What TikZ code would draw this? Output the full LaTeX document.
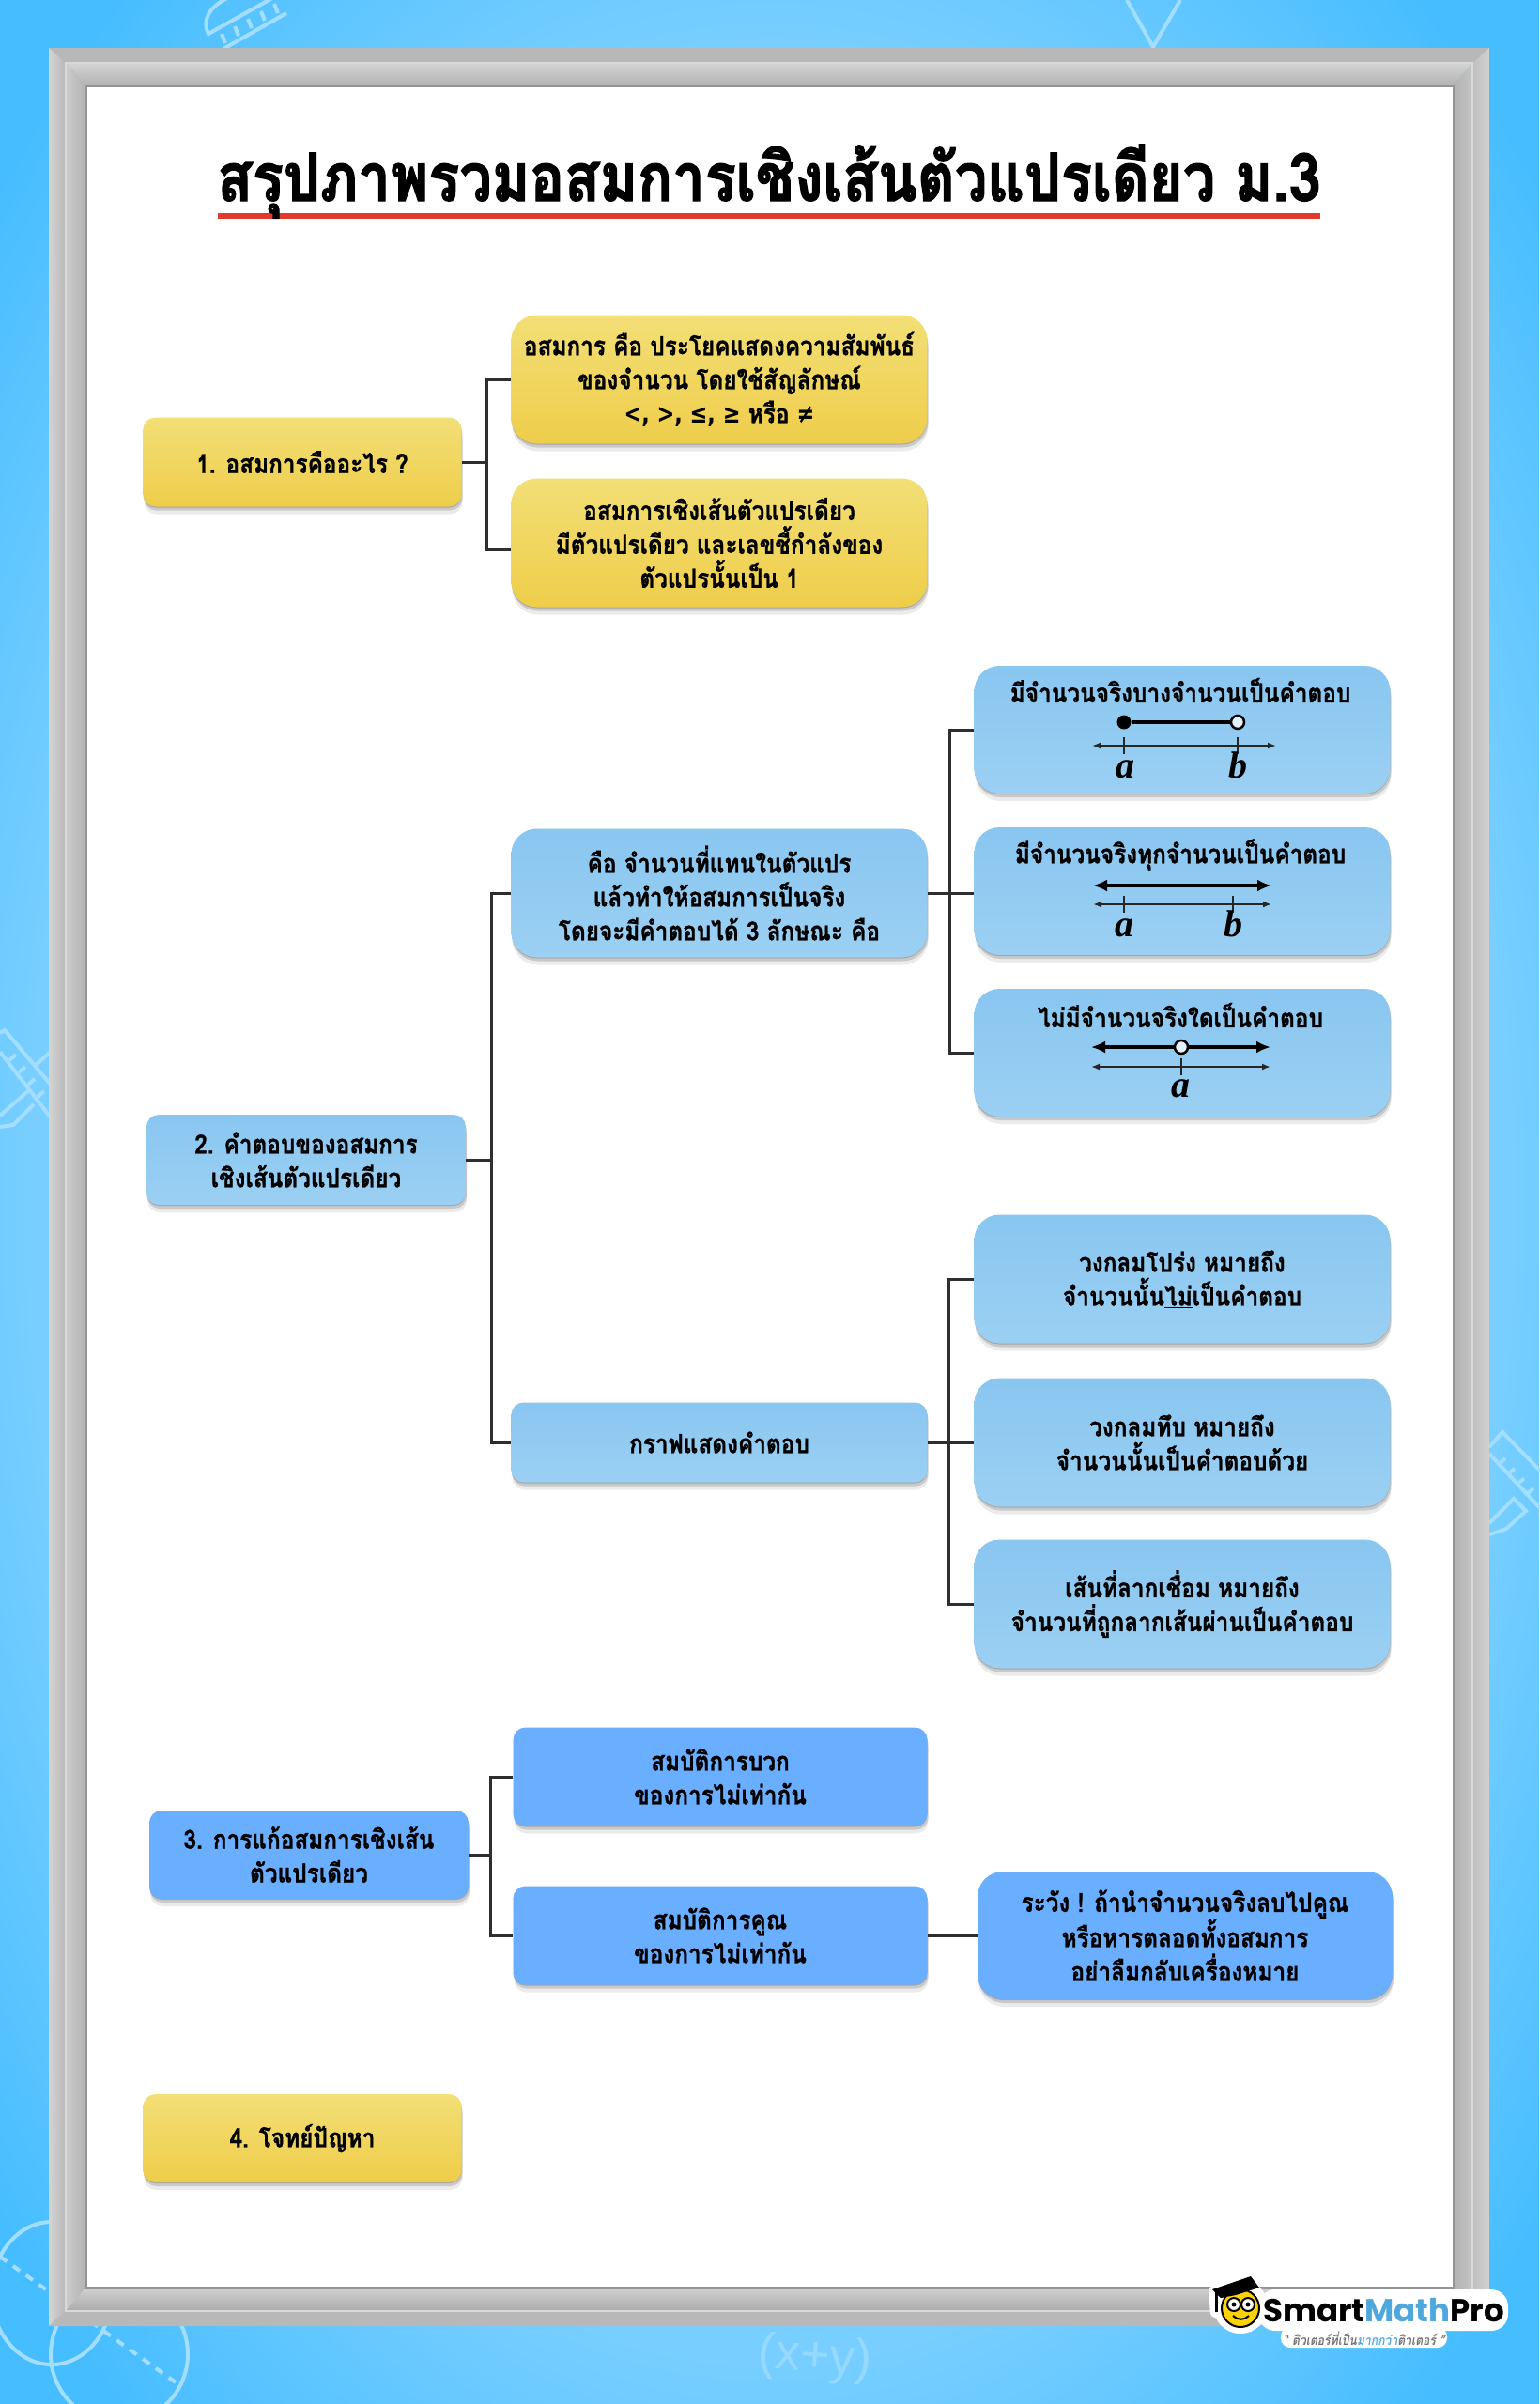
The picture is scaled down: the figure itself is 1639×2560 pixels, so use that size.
\documentclass[tikz,border=0pt]{standalone}
\usepackage{fontspec}
\setmainfont[Script=Thai,FakeStretch=.87,BoldFeatures={FakeStretch=.87,FakeBold=1}]{Loma}
\newfontfamily\titlefont[Script=Thai,BoldFeatures={FakeStretch=.865,FakeBold=1.8}]{Loma}
\newfontfamily\symfont[FakeStretch=.8]{DejaVu Sans}
\newfontfamily\varfont{Liberation Serif}
\newfontfamily\brandfont{Poppins}
\newfontfamily\doodlefont{Liberation Sans}
\usetikzlibrary{arrows.meta,shadows}
\definecolor{doodle}{HTML}{A3DEFF}
\definecolor{linkdark}{HTML}{2E2E2E}
\definecolor{titlered}{HTML}{E03A2C}
\definecolor{brandblue}{HTML}{4EA8DD}
\pgfdeclareradialshading{skyglow}{\pgfpoint{0bp}{0bp}}{rgb(0bp)=(.47,.81,1);rgb(24bp)=(.47,.81,1);rgb(33bp)=(.27,.74,1);rgb(50bp)=(.27,.74,1)}
\tikzset{
	softshadow/.style={drop shadow={shadow xshift=1pt,shadow yshift=-8pt,fill=black,opacity=.08},
		drop shadow={shadow xshift=1pt,shadow yshift=-4pt,fill=black,opacity=.14},
		drop shadow={shadow xshift=0pt,shadow yshift=-1pt,fill=black,opacity=.18}},
	headbox/.style={rounded corners=13pt,inner sep=0pt,align=center,softshadow,font=\fontsize{28}{36}\selectfont\bfseries},
	bigbox/.style={headbox,rounded corners=27pt},
	yellowbox/.style={top color={rgb,255:red,242;green,223;blue,118},bottom color={rgb,255:red,239;green,205;blue,74}},
	skybox/.style={top color={rgb,255:red,137;green,198;blue,240},bottom color={rgb,255:red,155;green,208;blue,243}},
	bluebox/.style={fill={rgb,255:red,106;green,174;blue,255}},
	boxtext/.style={align=center,inner sep=0pt,font=\fontsize{28}{36}\selectfont\bfseries},
	linkline/.style={draw=linkdark,line width=3pt},
	axisline/.style={black!85,line width=2pt,{Latex[length=9pt,width=7pt]}-{Latex[length=9pt,width=7pt]}},
	rayline/.style={black,line width=4.5pt,{Latex[length=15pt,width=13pt]}-{Latex[length=15pt,width=13pt]}},
	spanline/.style={black,line width=4.5pt},
	tickline/.style={black!85,line width=2pt},
	soliddot/.style={fill=black,circle,inner sep=0pt,minimum size=15pt},
	opendot/.style={draw=black,fill={rgb,255:red,226;green,241;blue,251},circle,line width=2.5pt,inner sep=0pt,minimum size=14pt},
	varlabel/.style={inner sep=0pt,anchor=base,font=\fontsize{40}{40}\varfont\bfseries\itshape},
	doodleline/.style={draw=doodle,line width=4pt}
}
\begin{document}
\begin{tikzpicture}[x=1pt,y=-1pt]
	\useasboundingbox (0,0) rectangle (1639,2560);
	\shade[shading=skyglow] (0,0) rectangle (1639,2560);
	% faint doodles behind the frame
	\draw[doodleline] (215,-2) arc (150:225:35 and 60);
	\draw[doodleline] (242,-2) .. controls (222,8) and (215,22) .. (222,36) -- (290,-2);
	\draw[doodleline] (238,52) -- (305,14);
	\foreach \tx/\ty in {240/46,254/38,268/30,282/22,296/14}
		\draw[doodleline] (\tx,\ty) -- ++(-4,-10);
	\draw[doodleline] (1200,0) -- (1228,50) -- (1257,0);
	\draw[doodleline] (0,1100) -- (5,1097) -- (54,1155);
	\draw[doodleline] (0,1120) -- (54,1190);
	\foreach \tx in {10,20,30,40}
		\draw[doodleline] (\tx,1116+\tx*1.3) -- ++(7,-6);
	\draw[doodleline] (54,1120) -- (38,1134);
	\draw[doodleline] (32,1160) -- (0,1188);
	\draw[doodleline] (0,1200) -- (14,1198) -- (36,1176);
	\draw[doodleline] (1586,1541) -- (1600,1525) -- (1640,1566);
	\draw[doodleline] (1586,1548) -- (1640,1606);
	\foreach \tx in {1596,1606,1616,1626}
		\draw[doodleline] (\tx,1559+\tx*1.07-1596*1.07) -- ++(7,-6);
	\draw[doodleline] (1586,1622) -- (1612,1596) -- (1626,1610);
	\draw[doodleline] (1586,1634) -- (1604,1628) -- (1626,1608);
	\draw[doodleline] (55,2442) ellipse (64 and 76);
	\draw[doodleline] (127,2507) circle (73);
	\draw[doodleline,dash pattern=on 9pt off 8pt] (0,2403) -- (187,2537);
	\node[inner sep=0pt,rotate=-4,text=doodle,text opacity=.7] (doodlesum) at (868,2512) {\fontsize{54}{54}\doodlefont (x+y)};
	% frame, outer and inner band of each side
	\fill[black!28] (52,51) -- (1586,51) -- (1568,67) -- (70,67) -- cycle;
	\shade[top color=black!17,bottom color=black!30] (70,67) -- (1568,67) -- (1548,91) -- (91,91) -- cycle;
	\shade[left color=black!17,right color=black!28] (52,51) -- (70,67) -- (70,2461) -- (52,2477) -- cycle;
	\shade[left color=black!20,right color=black!30] (70,67) -- (91,91) -- (91,2436) -- (70,2461) -- cycle;
	\shade[top color=black!18,bottom color=black!33] (91,2436) -- (1548,2436) -- (1568,2461) -- (70,2461) -- cycle;
	\fill[black!28] (70,2461) -- (1568,2461) -- (1586,2477) -- (52,2477) -- cycle;
	\shade[left color=black!30,right color=black!23] (1548,91) -- (1568,67) -- (1568,2461) -- (1548,2436) -- cycle;
	\shade[left color=black!25,right color=black!18] (1568,67) -- (1586,51) -- (1586,2477) -- (1568,2461) -- cycle;
	\draw[black!15,line width=2pt] (70,67) -- (1568,67) -- (1568,2461) -- (70,2461) -- cycle;
	\fill[white] (91,91) rectangle (1548,2436);
	\draw[black!42,line width=3pt] (91,2436) -- (91,91) -- (1548,91) -- (1548,2436) -- cycle;
	% title
	\fill[titlered] (232,227) rectangle (1406,233);
	\node[inner sep=0pt,anchor=base] (title) at (819,214) {\fontsize{71}{71}\titlefont\bfseries สรุปภาพรวมอสมการเชิงเส้นตัวแปรเดียว ม.3};
	% part 1
	\node[headbox,yellowbox,minimum width=339pt,minimum height=95pt] (headA) at (322,492) {1. อสมการคืออะไร ?};
	\node[bigbox,yellowbox,minimum width=443pt,minimum height=137pt] (leafAa) at (766,404) {อสมการ คือ ประโยคแสดงความสัมพันธ์\\ของจำนวน โดยใช้สัญลักษณ์\\{\symfont <, >, ≤, ≥} หรือ {\symfont ≠}};
	\node[bigbox,yellowbox,minimum width=443pt,minimum height=137pt] (leafAb) at (766,578) {อสมการเชิงเส้นตัวแปรเดียว\\มีตัวแปรเดียว และเลขชี้กำลังของ\\ตัวแปรนั้นเป็น 1};
	\coordinate (trunkA) at (518,492);
	\draw[linkline] (headA.east) -- (trunkA);
	\draw[linkline] (leafAa.west) -| (trunkA) |- ([yshift=-7pt]leafAb.west);
	% part 2
	\node[headbox,skybox,minimum width=340pt,minimum height=96pt] (headB) at (326,1235) {2. คำตอบของอสมการ\\เชิงเส้นตัวแปรเดียว};
	\node[bigbox,skybox,minimum width=443pt,minimum height=137pt] (meanB) at (766,951) {คือ จำนวนที่แทนในตัวแปร\\แล้วทำให้อสมการเป็นจริง\\โดยจะมีคำตอบได้ 3 ลักษณะ คือ};
	\node[headbox,skybox,minimum width=443pt,minimum height=85pt] (graphB) at (766,1536) {กราฟแสดงคำตอบ};
	\coordinate (trunkB) at (523,1235);
	\draw[linkline] (headB.east) -- (trunkB);
	\draw[linkline] (meanB.west) -| (trunkB) |- (graphB.west);
	% three kinds of answer
	\node[bigbox,skybox,minimum width=443pt,minimum height=136pt] (kindA) at (1259,777) {};
	\node[bigbox,skybox,minimum width=443pt,minimum height=136pt] (kindB) at (1259,949) {};
	\node[bigbox,skybox,minimum width=443pt,minimum height=136pt] (kindC) at (1259,1121) {};
	\coordinate (trunkC) at (1011,951);
	\draw[linkline] (meanB.east) -- (trunkC);
	\draw[linkline] (kindA.west) -| (trunkC) |- ([yshift=-2pt]kindB.west);
	\draw[linkline] (trunkC) |- (kindC.west);
	\node[boxtext] (kindAtext) at (1257,735) {มีจำนวนจริงบางจำนวนเป็นคำตอบ};
	\node[soliddot] (spanA) at (1197,769) {};
	\node[opendot] (spanB) at (1318,769) {};
	\draw[spanline] (spanA) -- (spanB);
	\coordinate (axisAl) at (1163,794);
	\coordinate (axisAr) at (1359,794);
	\draw[axisline] (axisAl) -- (axisAr);
	\draw[tickline] (1197,785) -- (1197,803);
	\draw[tickline] (1318,785) -- (1318,803);
	\node[varlabel] (varAa) at (1198,828) {a};
	\node[varlabel] (varAb) at (1318,828) {b};
	\node[boxtext] (kindBtext) at (1257,910) {มีจำนวนจริงทุกจำนวนเป็นคำตอบ};
	\coordinate (rayBl) at (1164,943);
	\coordinate (rayBr) at (1354,943);
	\draw[rayline] (rayBl) -- (rayBr);
	\coordinate (axisBl) at (1164,963);
	\coordinate (axisBr) at (1354,963);
	\draw[axisline] (axisBl) -- (axisBr);
	\draw[tickline] (1197,954) -- (1197,972);
	\draw[tickline] (1313,954) -- (1313,972);
	\node[varlabel] (varBa) at (1197,997) {a};
	\node[varlabel] (varBb) at (1313,997) {b};
	\node[boxtext] (kindCtext) at (1257,1081) {ไม่มีจำนวนจริงใดเป็นคำตอบ};
	\coordinate (rayCl) at (1162,1115);
	\coordinate (rayCr) at (1353,1115);
	\draw[rayline] (rayCl) -- (rayCr);
	\node[opendot] (holeC) at (1258,1115) {};
	\coordinate (axisCl) at (1162,1136);
	\coordinate (axisCr) at (1353,1136);
	\draw[axisline] (axisCl) -- (axisCr);
	\draw[tickline] (1258,1127) -- (1258,1145);
	\node[varlabel] (varCa) at (1257,1168) {a};
	% reading the graph
	\node[bigbox,skybox,minimum width=443pt,minimum height=137pt] (readA) at (1259,1362) {วงกลมโปร่ง หมายถึง\\จำนวนนั้น\underline{ไม่}เป็นคำตอบ};
	\node[bigbox,skybox,minimum width=443pt,minimum height=137pt] (readB) at (1259,1536) {วงกลมทึบ หมายถึง\\จำนวนนั้นเป็นคำตอบด้วย};
	\node[bigbox,skybox,minimum width=443pt,minimum height=137pt] (readC) at (1259,1708) {เส้นที่ลากเชื่อม หมายถึง\\จำนวนที่ถูกลากเส้นผ่านเป็นคำตอบ};
	\coordinate (trunkD) at (1010,1536);
	\draw[linkline] (graphB.east) -- (trunkD);
	\draw[linkline] (readA.west) -| (trunkD) |- (readB.west);
	\draw[linkline] (trunkD) |- (readC.west);
	% part 3
	\node[headbox,bluebox,minimum width=340pt,minimum height=94pt] (headE) at (329,1975) {3. การแก้อสมการเชิงเส้น\\ตัวแปรเดียว};
	\node[headbox,bluebox,minimum width=441pt,minimum height=105pt] (plusE) at (767,1892) {สมบัติการบวก\\ของการไม่เท่ากัน};
	\node[headbox,bluebox,minimum width=441pt,minimum height=105pt] (timesE) at (767,2061) {สมบัติการคูณ\\ของการไม่เท่ากัน};
	\node[bigbox,bluebox,minimum width=442pt,minimum height=136pt] (warnE) at (1262,2061) {ระวัง ! ถ้านำจำนวนจริงลบไปคูณ\\หรือหารตลอดทั้งอสมการ\\อย่าลืมกลับเครื่องหมาย};
	\coordinate (trunkE) at (522,1975);
	\draw[linkline] (headE.east) -- (trunkE);
	\draw[linkline] (plusE.west) -| (trunkE) |- (timesE.west);
	\draw[linkline] (timesE.east) -- (warnE.west);
	% part 4
	\node[headbox,yellowbox,minimum width=339pt,minimum height=94pt] (headF) at (322,2277) {4. โจทย์ปัญหา};
	% logo
	\fill[white,rounded corners=18pt] (1340,2438) rectangle (1606,2482);
	\fill[white,rounded corners=10pt] (1364,2478) rectangle (1541,2500);
	\fill[white] (1321,2456) circle (29);
	\fill[white,rounded corners=3pt] (1287,2436) -- (1333,2419) -- (1340,2436) -- (1298,2470) -- (1289,2466) -- cycle;
	\fill[yellow!70!orange,draw=black,line width=2pt] (1321,2458) circle (20);
	\fill[black] (1291,2438) -- (1332,2424) -- (1341,2436) -- (1316,2444) -- (1300,2447) -- cycle;
	\draw[black,line width=3pt] (1295,2441) -- (1295,2462);
	\draw[black,fill=white,line width=2pt] (1314,2454) circle (7);
	\draw[black,fill=white,line width=2pt] (1329,2454) circle (7);
	\fill[black] (1314,2454) circle (2.5);
	\fill[black] (1329,2454) circle (2.5);
	\draw[black,line width=2pt] (1313,2466) .. controls (1318,2471) and (1325,2471) .. (1330,2466);
	\node[inner sep=0pt,anchor=base west] (brand) at (1345,2472) {\fontsize{34}{34}\brandfont\bfseries Smart\textcolor{brandblue}{Math}Pro};
	\node[inner sep=0pt,text=black!55] (motto) at (1453,2490) {\fontsize{14}{14}\selectfont\bfseries\itshape “ ติวเตอร์ที่เป็น\textcolor{brandblue}{มากกว่า}ติวเตอร์ ”};
\end{tikzpicture}
\end{document}
